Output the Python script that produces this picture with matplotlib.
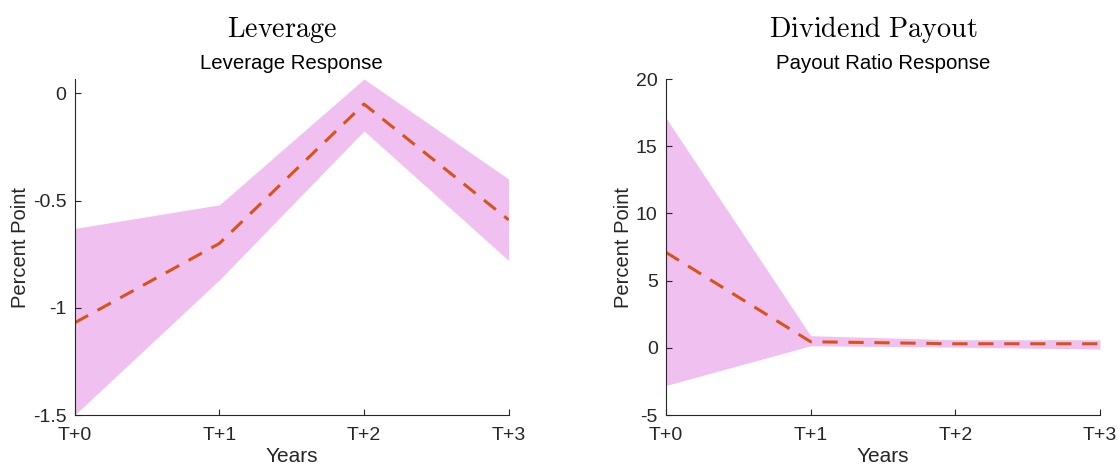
"""Two-panel impulse response chart (leverage / dividend payout) -> out.png."""
import matplotlib
matplotlib.use("Agg")
import matplotlib.pyplot as plt

plt.rcParams["font.family"] = ["Liberation Sans", "DejaVu Sans"]
plt.rcParams["mathtext.fontset"] = "cm"
plt.rcParams["axes.unicode_minus"] = False

years = [0, 1, 2, 3]
year_labels = ["T+0", "T+1", "T+2", "T+3"]

lev_mean = [-1.07, -0.70, -0.05, -0.59]
lev_upper = [-0.63, -0.52, 0.067, -0.40]
lev_lower = [-1.50, -0.87, -0.175, -0.78]
lev_ticks = [-1.5, -1, -0.5, 0]
lev_tick_labels = ["-1.5", "-1", "-0.5", "0"]

pay_mean = [7.1, 0.45, 0.3, 0.3]
pay_upper = [17.1, 0.9, 0.6, 0.6]
pay_lower = [-2.8, 0.15, 0.05, -0.1]
pay_ticks = [-5, 0, 5, 10, 15, 20]
pay_tick_labels = ["-5", "0", "5", "10", "15", "20"]

FILL = "#F0C0F0"
LINE = "#D95319"
INK = "#262626"

fig = plt.figure(figsize=(11.18, 4.66), dpi=100)
W, H = 1118, 466

panels = [
    (74.7, "Leverage", "Leverage Response", lev_mean, lev_upper, lev_lower,
     (-1.5, 0.067), lev_ticks, lev_tick_labels, 282),
    (666, "Dividend Payout", "Payout Ratio Response", pay_mean, pay_upper,
     pay_lower, (-5, 20), pay_ticks, pay_tick_labels, 873),
]

for x0, big, sub, mean, up, lo, ylim, ticks, tlabels, big_x in panels:
    ax = fig.add_axes([x0 / W, (H - 415) / H, 434 / W, 336 / H])
    ax.fill_between(years, lo, up, color=FILL, lw=0)
    ax.plot(years, mean, color=LINE, ls=(0, (5, 3.5)), lw=2.2)
    ax.set_xlim(0, 3)
    ax.set_ylim(*ylim)
    ax.set_xticks(years, year_labels)
    ax.set_yticks(ticks, tlabels)
    for s in ("top", "right"):
        ax.spines[s].set_visible(False)
    for s in ("left", "bottom"):
        ax.spines[s].set_color(INK)
        ax.spines[s].set_linewidth(0.8)
    ax.tick_params(direction="in", length=4, width=0.8, colors=INK,
                   labelsize=14, pad=6)
    ax.tick_params(axis="x", pad=9)
    ax.set_xlabel("Years", fontsize=15, color=INK, labelpad=2)
    ax.set_ylabel("Percent Point", fontsize=14.5, color=INK, labelpad=2)
    ax.set_title(sub, fontsize=14.7, color="black", pad=7)
    fig.text(big_x / W, 1 - 37 / H, r"$\mathrm{%s}$" % big.replace(" ", r"\ "),
             ha="center", va="baseline", fontsize=20.3, color="black")

fig.savefig("out.png", dpi=100)
